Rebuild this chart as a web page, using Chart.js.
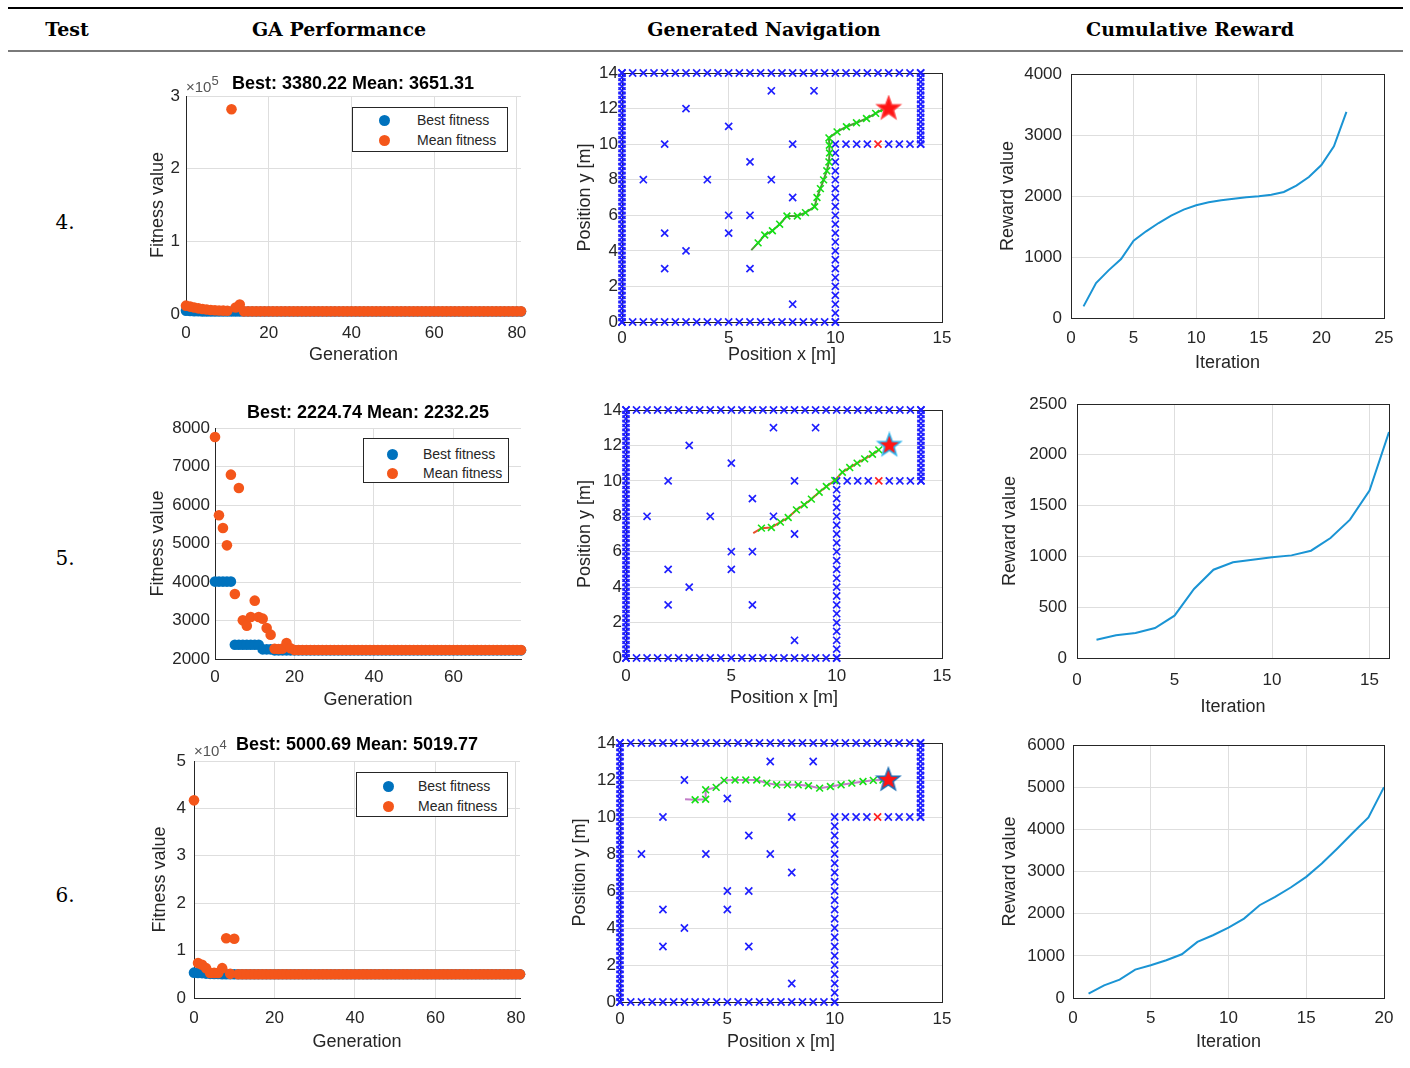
<!DOCTYPE html>
<html>
<head>
<meta charset="utf-8">
<title>GA path planning tests</title>
<script src="https://cdn.jsdelivr.net/npm/chart.js@4.4.1/dist/chart.umd.min.js"></script>
<style>
  html, body { margin: 0; padding: 0; background: #fff; }
  #page { position: relative; width: 1410px; height: 1068px; overflow: hidden; }
  .rule { position: absolute; left: 8px; width: 1395px; }
  .head { position: absolute; top: 16px; width: 320px; text-align: center; font: bold 19px 'DejaVu Serif', serif; line-height: 26px; color: #000; }
  .rowno { position: absolute; left: 45px; width: 40px; text-align: center; font: 20px 'DejaVu Serif', serif; line-height: 24px; color: #000; }
  canvas.plot { position: absolute; }
  .ttl { position: absolute; width: 400px; text-align: center; font: bold 18px 'Liberation Sans', Arial, sans-serif; line-height: 20px; color: #000; white-space: nowrap; }
  .expo { position: absolute; font: 15px 'Liberation Sans', Arial, sans-serif; line-height: 18px; color: #555; white-space: nowrap; }
  .expo b { font-weight: normal; font-size: 13px; position: relative; top: -7px; }
  .legend { position: absolute; border: 1px solid #262626; background: #fff; font: 14px 'Liberation Sans', Arial, sans-serif; color: #262626; }
  .legend span { position: absolute; white-space: nowrap; line-height: 18px; }
  .legend i { position: absolute; width: 11px; height: 11px; border-radius: 50%; }
</style>
</head>
<body>
<div id="page">
  <div class="rule" style="top:7px;height:2px;background:#000"></div>
  <div class="rule" style="top:50px;height:2px;background:#7a7a7a"></div>
  <div class="head" style="left:-93px">Test</div>
  <div class="head" style="left:179px">GA Performance</div>
  <div class="head" style="left:604px">Generated Navigation</div>
  <div class="head" style="left:1030px">Cumulative Reward</div>

  <div class="rowno" style="top:210px">4.</div>
  <div class="rowno" style="top:546px">5.</div>
  <div class="rowno" style="top:883px">6.</div>

  <canvas id="ga4" class="plot"></canvas>
  <canvas id="ga5" class="plot"></canvas>
  <canvas id="ga6" class="plot"></canvas>
  <canvas id="nav4" class="plot"></canvas>
  <canvas id="nav5" class="plot"></canvas>
  <canvas id="nav6" class="plot"></canvas>
  <canvas id="rew4" class="plot"></canvas>
  <canvas id="rew5" class="plot"></canvas>
  <canvas id="rew6" class="plot"></canvas>

  <div class="ttl" style="left:153px;top:73px">Best: 3380.22 Mean: 3651.31</div>
  <div class="ttl" style="left:168px;top:402px">Best: 2224.74 Mean: 2232.25</div>
  <div class="ttl" style="left:157px;top:734px">Best: 5000.69 Mean: 5019.77</div>
  <div class="expo" style="left:186px;top:78px">&times;10<b>5</b></div>
  <div class="expo" style="left:194px;top:742px">&times;10<b>4</b></div>
</div>

<script>
// ---- GA runs: best / mean fitness per generation (generation = index) ----
var ga4Best = [
  4500, 4200, 3900, 3700, 3550, 3450, 3400, 3380.22, 3380.22, 3380.22,
  3380.22, 3380.22, 3380.22, 3380.22, 3380.22, 3380.22, 3380.22, 3380.22, 3380.22, 3380.22,
  3380.22, 3380.22, 3380.22, 3380.22, 3380.22, 3380.22, 3380.22, 3380.22, 3380.22, 3380.22,
  3380.22, 3380.22, 3380.22, 3380.22, 3380.22, 3380.22, 3380.22, 3380.22, 3380.22, 3380.22,
  3380.22, 3380.22, 3380.22, 3380.22, 3380.22, 3380.22, 3380.22, 3380.22, 3380.22, 3380.22,
  3380.22, 3380.22, 3380.22, 3380.22, 3380.22, 3380.22, 3380.22, 3380.22, 3380.22, 3380.22,
  3380.22, 3380.22, 3380.22, 3380.22, 3380.22, 3380.22, 3380.22, 3380.22, 3380.22, 3380.22,
  3380.22, 3380.22, 3380.22, 3380.22, 3380.22, 3380.22, 3380.22, 3380.22, 3380.22, 3380.22,
  3380.22, 3380.22
];
var ga4Mean = [
  11500, 10200, 8900, 7800, 6900, 6200, 5600, 5200, 4900, 4700,
  4500, 281700, 9000, 13000, 3651.31, 3651.31, 3651.31, 3651.31, 3651.31, 3651.31,
  3651.31, 3651.31, 3651.31, 3651.31, 3651.31, 3651.31, 3651.31, 3651.31, 3651.31, 3651.31,
  3651.31, 3651.31, 3651.31, 3651.31, 3651.31, 3651.31, 3651.31, 3651.31, 3651.31, 3651.31,
  3651.31, 3651.31, 3651.31, 3651.31, 3651.31, 3651.31, 3651.31, 3651.31, 3651.31, 3651.31,
  3651.31, 3651.31, 3651.31, 3651.31, 3651.31, 3651.31, 3651.31, 3651.31, 3651.31, 3651.31,
  3651.31, 3651.31, 3651.31, 3651.31, 3651.31, 3651.31, 3651.31, 3651.31, 3651.31, 3651.31,
  3651.31, 3651.31, 3651.31, 3651.31, 3651.31, 3651.31, 3651.31, 3651.31, 3651.31, 3651.31,
  3651.31, 3651.31
];
var ga5Best = [
  4010, 4010, 4010, 4010, 4010, 2370, 2370, 2370, 2370, 2370,
  2370, 2370, 2250, 2250, 2250, 2224.74, 2224.74, 2224.74, 2224.74, 2224.74,
  2224.74, 2224.74, 2224.74, 2224.74, 2224.74, 2224.74, 2224.74, 2224.74, 2224.74, 2224.74,
  2224.74, 2224.74, 2224.74, 2224.74, 2224.74, 2224.74, 2224.74, 2224.74, 2224.74, 2224.74,
  2224.74, 2224.74, 2224.74, 2224.74, 2224.74, 2224.74, 2224.74, 2224.74, 2224.74, 2224.74,
  2224.74, 2224.74, 2224.74, 2224.74, 2224.74, 2224.74, 2224.74, 2224.74, 2224.74, 2224.74,
  2224.74, 2224.74, 2224.74, 2224.74, 2224.74, 2224.74, 2224.74, 2224.74, 2224.74, 2224.74,
  2224.74, 2224.74, 2224.74, 2224.74, 2224.74, 2224.74, 2224.74, 2224.74
];
var ga5Mean = [
  7766, 5732, 5403, 4952, 6788, 3688, 6442, 3004, 2866, 3091,
  3515, 3091, 3048, 2805, 2632, 2268, 2260, 2270, 2416, 2280,
  2232.25, 2232.25, 2232.25, 2232.25, 2232.25, 2232.25, 2232.25, 2232.25, 2232.25, 2232.25,
  2232.25, 2232.25, 2232.25, 2232.25, 2232.25, 2232.25, 2232.25, 2232.25, 2232.25, 2232.25,
  2232.25, 2232.25, 2232.25, 2232.25, 2232.25, 2232.25, 2232.25, 2232.25, 2232.25, 2232.25,
  2232.25, 2232.25, 2232.25, 2232.25, 2232.25, 2232.25, 2232.25, 2232.25, 2232.25, 2232.25,
  2232.25, 2232.25, 2232.25, 2232.25, 2232.25, 2232.25, 2232.25, 2232.25, 2232.25, 2232.25,
  2232.25, 2232.25, 2232.25, 2232.25, 2232.25, 2232.25, 2232.25, 2232.25
];
var ga6Best = [
  5350, 5300, 5250, 5150, 5100, 5050, 5050, 5000.69, 5000.69, 5000.69,
  5000.69, 5000.69, 5000.69, 5000.69, 5000.69, 5000.69, 5000.69, 5000.69, 5000.69, 5000.69,
  5000.69, 5000.69, 5000.69, 5000.69, 5000.69, 5000.69, 5000.69, 5000.69, 5000.69, 5000.69,
  5000.69, 5000.69, 5000.69, 5000.69, 5000.69, 5000.69, 5000.69, 5000.69, 5000.69, 5000.69,
  5000.69, 5000.69, 5000.69, 5000.69, 5000.69, 5000.69, 5000.69, 5000.69, 5000.69, 5000.69,
  5000.69, 5000.69, 5000.69, 5000.69, 5000.69, 5000.69, 5000.69, 5000.69, 5000.69, 5000.69,
  5000.69, 5000.69, 5000.69, 5000.69, 5000.69, 5000.69, 5000.69, 5000.69, 5000.69, 5000.69,
  5000.69, 5000.69, 5000.69, 5000.69, 5000.69, 5000.69, 5000.69, 5000.69, 5000.69, 5000.69,
  5000.69, 5000.69
];
var ga6Mean = [
  41700, 7360, 7000, 6300, 5300, 5300, 5300, 6300, 12600, 5100,
  12500, 5019.77, 5019.77, 5019.77, 5019.77, 5019.77, 5019.77, 5019.77, 5019.77, 5019.77,
  5019.77, 5019.77, 5019.77, 5019.77, 5019.77, 5019.77, 5019.77, 5019.77, 5019.77, 5019.77,
  5019.77, 5019.77, 5019.77, 5019.77, 5019.77, 5019.77, 5019.77, 5019.77, 5019.77, 5019.77,
  5019.77, 5019.77, 5019.77, 5019.77, 5019.77, 5019.77, 5019.77, 5019.77, 5019.77, 5019.77,
  5019.77, 5019.77, 5019.77, 5019.77, 5019.77, 5019.77, 5019.77, 5019.77, 5019.77, 5019.77,
  5019.77, 5019.77, 5019.77, 5019.77, 5019.77, 5019.77, 5019.77, 5019.77, 5019.77, 5019.77,
  5019.77, 5019.77, 5019.77, 5019.77, 5019.77, 5019.77, 5019.77, 5019.77, 5019.77, 5019.77,
  5019.77, 5019.77
];

// ---- map: walls, scattered obstacles, the blocked door and the goal ----
var wallLeftY = [0, 0.25, 0.5, 0.75, 1, 1.25, 1.5, 1.75, 2, 2.25, 2.5, 2.75, 3, 3.25, 3.5, 3.75,
  4, 4.25, 4.5, 4.75, 5, 5.25, 5.5, 5.75, 6, 6.25, 6.5, 6.75, 7, 7.25, 7.5, 7.75, 8, 8.25, 8.5,
  8.75, 9, 9.25, 9.5, 9.75, 10, 10.25, 10.5, 10.75, 11, 11.25, 11.5, 11.75, 12, 12.25, 12.5,
  12.75, 13, 13.25, 13.5, 13.75, 14];
var wallTopX = [0, 0.5, 1, 1.5, 2, 2.5, 3, 3.5, 4, 4.5, 5, 5.5, 6, 6.5, 7, 7.5, 8, 8.5, 9, 9.5,
  10, 10.5, 11, 11.5, 12, 12.5, 13, 13.5, 14];
var wallBottomX = [0, 0.5, 1, 1.5, 2, 2.5, 3, 3.5, 4, 4.5, 5, 5.5, 6, 6.5, 7, 7.5, 8, 8.5, 9, 9.5, 10];
var wallMidY = [0, 0.5, 1, 1.5, 2, 2.5, 3, 3.5, 4, 4.5, 5, 5.5, 6, 6.5, 7, 7.5, 8, 8.5, 9, 9.5, 10];
var wallLedgeX = [10.5, 11, 11.5, 12.5, 13, 13.5, 14];
var wallRightY = [10, 10.25, 10.5, 10.75, 11, 11.25, 11.5, 11.75, 12, 12.25, 12.5, 12.75, 13,
  13.25, 13.5, 13.75, 14];
var obstacleX = [2, 3, 1, 4, 2, 3, 2, 5, 5, 5, 6, 6, 6, 7, 7, 8, 8, 8, 9];
var obstacleY = [10, 12, 8, 8, 5, 4, 3, 11, 6, 5, 9, 6, 3, 13, 8, 10, 7, 1, 13];
var doorX = [12], doorY = [10];
var goalX = [12.5], goalY = [12];

// ---- generated paths ----
var nav4PathX = [6.06, 6.38, 6.69, 7.05, 7.39, 7.73, 8.22, 8.6, 9.03, 9.14, 9.3, 9.45, 9.6, 9.7,
  9.73, 9.72, 9.7, 10.08, 10.52, 10.99, 11.46, 11.89, 12.28];
var nav4PathY = [4.04, 4.45, 4.89, 5.13, 5.5, 5.96, 5.96, 6.15, 6.48, 7.0, 7.5, 7.99, 8.5, 9.0,
  9.5, 9.94, 10.35, 10.69, 10.98, 11.2, 11.44, 11.73, 12.0];
var nav5PathX = [6.04, 6.43, 6.9, 7.33, 7.7, 8.09, 8.46, 8.8, 9.17, 9.51, 9.91, 10.27, 10.62,
  10.97, 11.33, 11.7, 12.0];
var nav5PathY = [7.05, 7.33, 7.37, 7.67, 7.93, 8.36, 8.65, 8.97, 9.36, 9.68, 10.02, 10.49, 10.75,
  11.0, 11.24, 11.5, 11.75];
var nav6PathX = [3.03, 3.5, 3.99, 3.99, 4.48, 4.85, 5.36, 5.86, 6.37, 6.84, 7.3, 7.8, 8.3, 8.78,
  9.3, 9.8, 10.3, 10.8, 11.32, 11.8, 12.25];
var nav6PathY = [10.96, 10.93, 10.96, 11.47, 11.6, 11.98, 12.0, 12.0, 12.0, 11.83, 11.74, 11.74,
  11.74, 11.69, 11.56, 11.65, 11.74, 11.83, 11.92, 11.98, 12.0];

// ---- cumulative reward per iteration (iteration = index + 1) ----
var rew4 = [191, 574, 781, 967, 1268, 1421, 1557, 1678, 1776, 1847, 1896, 1929, 1956, 1978,
  1995, 2022, 2066, 2169, 2311, 2508, 2814, 3380.22];
var rew5 = [180, 223, 246, 295, 417, 679, 869, 942, 968, 991, 1010, 1056, 1181, 1362, 1647, 2224.74];
var rew6 = [103, 301, 435, 673, 776, 894, 1037, 1330, 1488, 1670, 1884, 2200, 2398, 2620, 2873,
  3190, 3546, 3918, 4282, 5000.69];

var FONT = "'Liberation Sans', Arial, Helvetica, sans-serif";
var INK = '#262626';
var GRID = '#dedede';
var BLUE_DOT = '#0072bd';
var ORANGE_DOT = '#f4561a';
var REWARD_LINE = '#1a94d4';
var MAP_BLUE = '#1f1fff';
var MAP_RED = '#ff2020';
var STEP_GREEN = '#14e014';

function byIndex(values, first) {
  return values.map(function(v, i) { return {x: i + first, y: v}; });
}
function pairs(xs, ys) {
  return xs.map(function(x, i) { return {x: x, y: ys[i]}; });
}
function row(xs, y) {
  return xs.map(function(x) { return {x: x, y: y}; });
}
function column(x, ys) {
  return ys.map(function(y) { return {x: x, y: y}; });
}

var mapMarks = [].concat(
  column(0, wallLeftY), row(wallTopX, 14), row(wallBottomX, 0),
  column(10, wallMidY), row(wallLedgeX, 10), column(14, wallRightY),
  pairs(obstacleX, obstacleY)
);

// outline around the plot area, like a MATLAB "box on" axes
var frameBox = {
  id: 'frameBox',
  beforeDatasetsDraw: function(chart, args, opts) {
    if (!opts || !opts.color) return;
    var a = chart.chartArea, ctx = chart.ctx;
    ctx.save();
    ctx.strokeStyle = opts.color;
    ctx.lineWidth = 1;
    ctx.strokeRect(a.left + 0.5, a.top + 0.5, a.right - a.left, a.bottom - a.top);
    ctx.restore();
  }
};

// size and place a canvas so the plot area lands on the given rectangle;
// the top/right margins are wide enough to swallow the tick-label overflow
function frame(id, f) {
  var canvas = document.getElementById(id);
  var left = f.yTitle - 11, top = f.top - 26;
  var right = f.right + 30, bottom = f.xTitle + 11;
  canvas.width = right - left;
  canvas.height = bottom - top;
  canvas.style.left = left + 'px';
  canvas.style.top = top + 'px';
  canvas.style.width = (right - left) + 'px';
  canvas.style.height = (bottom - top) + 'px';
  return {
    canvas: canvas,
    padding: {top: f.top - top, right: right - f.right, left: 0, bottom: 0},
    yWidth: f.left - left,
    xHeight: bottom - f.bottom
  };
}

function axis(horizontal, size, o) {
  return {
    type: 'linear',
    position: horizontal ? 'bottom' : 'left',
    min: o.min,
    max: o.max,
    afterFit: function(scale) {
      if (horizontal) scale.height = size; else scale.width = size;
    },
    grid: {color: GRID, lineWidth: 1, drawTicks: false},
    border: {display: !!o.edge, color: INK, width: 1},
    ticks: {
      stepSize: o.step,
      includeBounds: false,
      autoSkip: false,
      maxRotation: 0,
      padding: o.pad,
      color: INK,
      font: {family: FONT, size: 17},
      callback: function(v) { return String(o.div ? Math.round(v / o.div) : v); }
    },
    title: {display: true, text: o.title, color: INK, padding: 0, font: {family: FONT, size: 18}}
  };
}

function options(fr, x, y, boxColor) {
  return {
    responsive: false,
    animation: false,
    events: [],
    devicePixelRatio: 1,
    layout: {padding: fr.padding, autoPadding: false},
    plugins: {
      legend: {display: false},
      tooltip: {enabled: false},
      frameBox: {color: boxColor}
    },
    scales: {
      x: axis(true, fr.xHeight, x),
      y: axis(false, fr.yWidth, y)
    }
  };
}

function legend(left, top, width, dotX, textX, rowA, rowB) {
  var box = document.createElement('div');
  box.className = 'legend';
  box.style.left = left + 'px';
  box.style.top = top + 'px';
  box.style.width = (width - 2) + 'px';
  box.style.height = '43px';
  [[rowA, BLUE_DOT, 'Best fitness'], [rowB, ORANGE_DOT, 'Mean fitness']].forEach(function(r) {
    var dot = document.createElement('i');
    dot.style.left = (dotX - 6.5) + 'px';
    dot.style.top = (r[0] - 6.5) + 'px';
    dot.style.background = r[1];
    var txt = document.createElement('span');
    txt.style.left = (textX - 1) + 'px';
    txt.style.top = (r[0] - 10) + 'px';
    txt.textContent = r[2];
    box.appendChild(dot);
    box.appendChild(txt);
  });
  document.getElementById('page').appendChild(box);
}

function gaChart(id, f, best, mean, x, y) {
  var fr = frame(id, f);
  new Chart(fr.canvas, {
    type: 'scatter',
    data: {
      datasets: [
        {label: 'Mean fitness', data: byIndex(mean, 0), pointRadius: 5.3, pointBorderWidth: 0,
         pointBackgroundColor: ORANGE_DOT, clip: false, order: 0},
        {label: 'Best fitness', data: byIndex(best, 0), pointRadius: 5.3, pointBorderWidth: 0,
         pointBackgroundColor: BLUE_DOT, clip: false, order: 1}
      ]
    },
    options: options(fr, x, y, null),
    plugins: [frameBox]
  });
}

function starMarker(fill, edge) {
  var c = document.createElement('canvas');
  c.width = 28;
  c.height = 28;
  var g = c.getContext('2d');
  g.beginPath();
  for (var k = 0; k < 10; k++) {
    var r = k % 2 ? 5 : 12;
    var a = -Math.PI / 2 + k * Math.PI / 5;
    if (k) g.lineTo(14 + r * Math.cos(a), 14 + r * Math.sin(a));
    else g.moveTo(14 + r * Math.cos(a), 14 + r * Math.sin(a));
  }
  g.closePath();
  g.fillStyle = fill;
  g.fill();
  g.lineWidth = 1.5;
  g.strokeStyle = edge;
  g.stroke();
  return c;
}

function navChart(id, f, pathX, pathY, lineColor, starEdge) {
  var fr = frame(id, f);
  new Chart(fr.canvas, {
    type: 'scatter',
    data: {
      datasets: [
        {data: pairs(goalX, goalY), pointStyle: starMarker('#ff1414', starEdge), pointRadius: 12,
         clip: false, order: 0},
        {data: pairs(pathX, pathY), showLine: true, borderColor: lineColor, borderWidth: 2,
         pointStyle: 'crossRot', pointBorderColor: STEP_GREEN, pointBorderWidth: 1.6,
         pointRadius: function(ctx) { return ctx.dataIndex === 0 ? 0 : 4.8; },
         clip: false, order: 1},
        {data: pairs(doorX, doorY), pointStyle: 'crossRot', pointRadius: 5,
         pointBorderColor: MAP_RED, pointBorderWidth: 1.7, clip: false, order: 2},
        {data: mapMarks, pointStyle: 'crossRot', pointRadius: 5,
         pointBorderColor: MAP_BLUE, pointBorderWidth: 1.7, clip: false, order: 3}
      ]
    },
    options: options(fr,
      {min: 0, max: 15, step: 5, pad: f.xPad, title: 'Position x [m]'},
      {min: 0, max: 14, step: 2, pad: f.yPad, title: 'Position y [m]'},
      INK),
    plugins: [frameBox]
  });
}

function rewardChart(id, f, values, x, y) {
  var fr = frame(id, f);
  new Chart(fr.canvas, {
    type: 'scatter',
    data: {
      datasets: [{data: byIndex(values, 1), showLine: true, borderColor: REWARD_LINE,
                  borderWidth: 2, pointRadius: 0, tension: 0}]
    },
    options: options(fr, x, y, INK),
    plugins: [frameBox]
  });
}

// GA performance column
gaChart('ga4', {left: 186, top: 96, right: 521, bottom: 314, yTitle: 158, xTitle: 355},
  ga4Best, ga4Mean,
  {min: 0, max: 81, step: 20, pad: 9, edge: true, title: 'Generation'},
  {min: 0, max: 300000, step: 100000, pad: 6, edge: true, div: 100000, title: 'Fitness value'});
gaChart('ga5', {left: 215, top: 428, right: 521, bottom: 659, yTitle: 158, xTitle: 700},
  ga5Best, ga5Mean,
  {min: 0, max: 77, step: 20, pad: 8, edge: true, title: 'Generation'},
  {min: 2000, max: 8000, step: 1000, pad: 5, edge: true, title: 'Fitness value'});
gaChart('ga6', {left: 194, top: 761, right: 520, bottom: 998, yTitle: 160, xTitle: 1042},
  ga6Best, ga6Mean,
  {min: 0, max: 81, step: 20, pad: 10, edge: true, title: 'Generation'},
  {min: 0, max: 50000, step: 10000, pad: 8, edge: true, div: 10000, title: 'Fitness value'});

legend(352, 107, 156, 32, 65, 13, 33);
legend(363, 438, 146, 29, 60, 16, 35);
legend(356, 772, 152, 32, 62, 14, 34);

// generated navigation column
navChart('nav4', {left: 622, top: 73, right: 942, bottom: 322, yTitle: 585, xTitle: 355, xPad: 6, yPad: 4},
  nav4PathX, nav4PathY, '#4f9a35', '#ff3a3a');
navChart('nav5', {left: 626, top: 410, right: 942, bottom: 658, yTitle: 585, xTitle: 698, xPad: 8, yPad: 4},
  nav5PathX, nav5PathY, '#e8522e', '#2ab4ee');
navChart('nav6', {left: 620, top: 743, right: 942, bottom: 1002, yTitle: 580, xTitle: 1042, xPad: 7, yPad: 4},
  nav6PathX, nav6PathY, '#c27cc8', '#1f6fb5');

// cumulative reward column
rewardChart('rew4', {left: 1071, top: 74, right: 1384, bottom: 318, yTitle: 1008, xTitle: 363}, rew4,
  {min: 0, max: 25, step: 5, pad: 10, title: 'Iteration'},
  {min: 0, max: 4000, step: 1000, pad: 9, title: 'Reward value'});
rewardChart('rew5', {left: 1077, top: 404, right: 1389, bottom: 658, yTitle: 1010, xTitle: 707}, rew5,
  {min: 0, max: 16, step: 5, pad: 12, title: 'Iteration'},
  {min: 0, max: 2500, step: 500, pad: 10, title: 'Reward value'});
rewardChart('rew6', {left: 1073, top: 745, right: 1384, bottom: 998, yTitle: 1010, xTitle: 1042}, rew6,
  {min: 0, max: 20, step: 5, pad: 10, title: 'Iteration'},
  {min: 0, max: 6000, step: 1000, pad: 8, title: 'Reward value'});
</script>
</body>
</html>
